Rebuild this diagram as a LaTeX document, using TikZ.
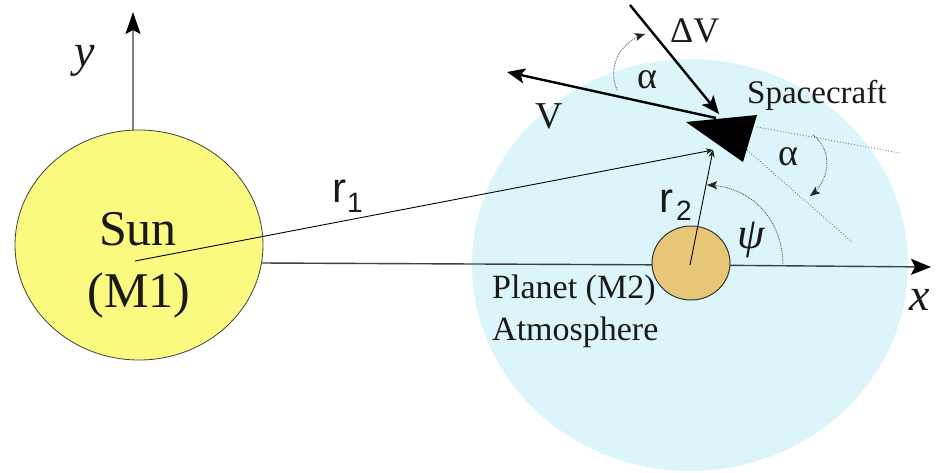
\documentclass[tikz,border=0pt]{standalone}
\usepackage{fontspec}
\setmainfont{Liberation Serif}[Ligatures=TeX]
\newfontfamily\serifm{Liberation Serif}
\newfontfamily\sansf{Liberation Sans}
\usetikzlibrary{arrows.meta}
\definecolor{sunyellow}{RGB}{250,250,128}
\definecolor{atmo}{RGB}{220,245,250}
\definecolor{planetc}{RGB}{232,198,120}
\definecolor{txt}{RGB}{25,25,25}
\begin{document}
\begin{tikzpicture}[x=1pt,y=-1pt,
  lbl/.style={inner sep=0pt,anchor=base west,text=txt},
  vecline/.style={draw=black,line width=2.4pt,-{Stealth[length=18pt,width=15pt,inset=4pt]}},
  rarrow/.style={draw=black,line width=0.9pt,-{Stealth[length=7pt,width=6pt,open]}},
  anglearc/.style={draw=black!65,line width=0.9pt,densely dotted},
  arctip/.style={draw=black!85,line width=0.9pt,solid,-{Stealth[length=10pt,width=8pt,inset=2pt]}},
  dotline/.style={draw=black!55,line width=0.9pt,dotted}]
\useasboundingbox (0,0) rectangle (936,472);
% named points
\coordinate (sunc) at (135,261);
\coordinate (planc) at (690,265);
\coordinate (sc) at (713,150);
\coordinate (hstart) at (262,263);
\coordinate (xend) at (931,267);
\coordinate (ytop) at (133,12);
\coordinate (ybot) at (133,131);
\coordinate (vtail) at (716,118);
\coordinate (vtip) at (507,72);
\coordinate (dvtail) at (630,5);
\coordinate (dvtip) at (719,114);
% atmosphere
\fill[atmo] (690,265) ellipse [x radius=218, y radius=206];
% horizontal line and x axis
\draw[line width=1.4pt,black!75] (hstart) -- (planc);
\draw[line width=1.4pt,black!75,-{Stealth[length=20pt,width=16pt,inset=4pt,color=black]}] (planc) -- (xend);
% y axis
\draw[line width=1.6pt,black!50,-{Stealth[length=22pt,width=15pt,inset=4pt,color=black]}] (ybot) -- (ytop);
% sun
\draw[fill=sunyellow,draw=black!75,line width=0.8pt] (139,245) ellipse [x radius=124, y radius=115];
% planet
\draw[fill=planetc,draw=black!80,line width=1pt] (691,263) ellipse [x radius=39, y radius=37];
% dotted direction lines
\draw[dotline] (757,127) -- (900,153);
\draw[dotline] (747,150) -- (852,242);
% r1, r2
\draw[rarrow] (sunc) -- (sc);
\draw[rarrow] (planc) -- (sc);
% spacecraft
\fill[black] (686,122) -- (757,115) -- (743,162) -- cycle;
% velocity vectors
\draw[vecline] (vtail) -- (vtip);
\draw[vecline] (dvtail) -- (dvtip);
% angle arcs
\draw[anglearc] (617,90) .. controls (607,66) and (620,42) .. (645,34);
\draw[arctip] (640,35.6) -- (645,34);
\draw[anglearc] (813,135) .. controls (833,150) and (831,180) .. (810,196);
\draw[arctip] (814,193) -- (810,196);
\draw[anglearc] (783,266) .. controls (783,220) and (752,186) .. (707,185);
\draw[arctip] (712,185.1) -- (707,185);
% labels
\node[lbl,anchor=base,font=\serifm\fontsize{50}{60}\selectfont] (sunlbl) at (138,245) {Sun};
\node[lbl,anchor=base,font=\serifm\fontsize{50}{60}\selectfont] (m1lbl) at (139,307) {(M1)};
\node[lbl,font=\serifm\fontsize{34}{40}\selectfont] (planlbl) at (492,298) {Planet (M2)};
\node[lbl,font=\serifm\fontsize{34}{40}\selectfont] (atmolbl) at (492,340) {Atmosphere};
\node[lbl,font=\serifm\fontsize{33}{40}\selectfont] (sclbl) at (747,103) {Spacecraft};
\node[lbl,font=\serifm\fontsize{36}{40}\selectfont] (dvlbl) at (670,42) {ΔV};
\node[lbl,font=\serifm\fontsize{38}{40}\selectfont] (vlbl) at (535,128) {V};
\node[lbl,font=\serifm\fontsize{38}{40}\selectfont] (a1lbl) at (637,88) {α};
\node[lbl,font=\serifm\fontsize{38}{40}\selectfont] (a2lbl) at (778,165) {α};
\node[lbl,font=\serifm\fontsize{44}{48}\selectfont\itshape] (psilbl) at (737,248) {ψ};
\node[lbl,font=\serifm\fontsize{46}{50}\selectfont\itshape] (xlbl) at (909,310) {x};
\node[lbl,font=\serifm\fontsize{46}{50}\selectfont\itshape] (ylbl) at (74,66) {y};
\node[lbl,font=\sansf\fontsize{42}{46}\selectfont] (r1lbl) at (332,202) {r};
\node[lbl,font=\sansf\fontsize{28}{30}\selectfont] (r1sub) at (347,212) {1};
\node[lbl,font=\sansf\fontsize{42}{46}\selectfont] (r2lbl) at (659,212) {r};
\node[lbl,font=\sansf\fontsize{28}{30}\selectfont] (r2sub) at (676,220) {2};
\end{tikzpicture}
\end{document}
